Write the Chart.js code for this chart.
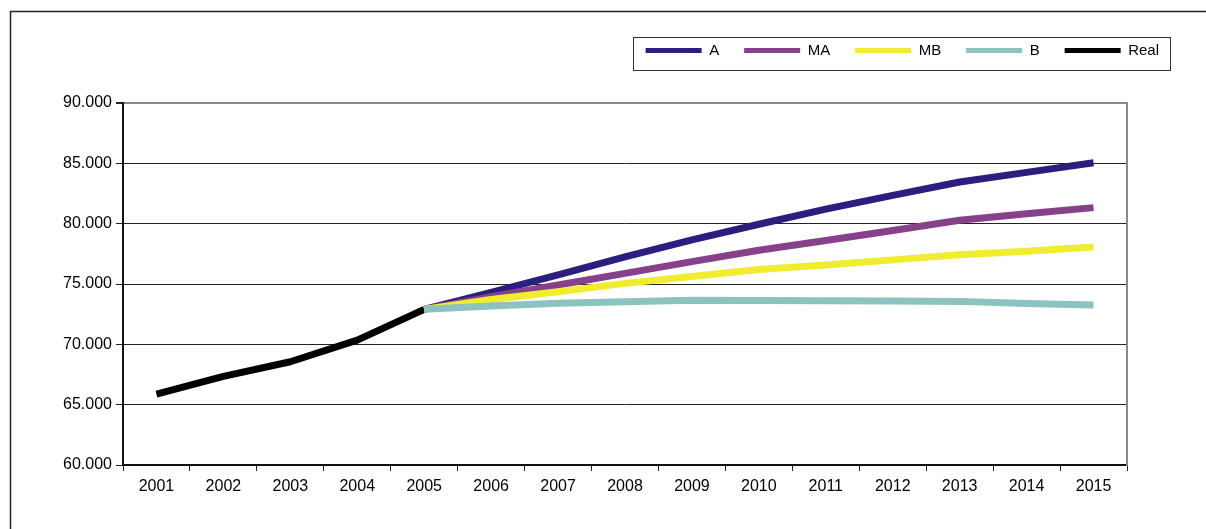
<!DOCTYPE html>
<html>
<head>
<meta charset="utf-8">
<script src="https://cdn.jsdelivr.net/npm/chart.js@4/dist/chart.umd.min.js"></script>
<style>
  html, body { margin: 0; padding: 0; background: #fff; }
  #wrap { width: 1206px; height: 529px; }
</style>
</head>
<body>
<div id="wrap"><canvas id="canvas1" width="1206" height="529"></canvas></div>
<script>
var years = ['2001', '2002', '2003', '2004', '2005', '2006', '2007', '2008',
  '2009', '2010', '2011', '2012', '2013', '2014', '2015'];
var real = [65880, 67350, 68560, 70350, 72900, null, null, null, null, null, null, null, null, null, null];
var serieA = [null, null, null, null, 72900, 74300, 75750, 77250, 78650, 79950, 81200, 82350, 83450, 84250, 85050];
var serieMA = [null, null, null, null, 72900, 73950, 74920, 75880, 76850, 77800, 78610, 79440, 80280, 80830, 81330];
var serieMB = [null, null, null, null, 72900, 73720, 74360, 75050, 75620, 76200, 76580, 77000, 77420, 77720, 78060];
var serieB = [null, null, null, null, 72900, 73170, 73400, 73530, 73650, 73640, 73610, 73590, 73560, 73390, 73250];
var yTicks = [60000, 65000, 70000, 75000, 80000, 85000, 90000];

var font = "'Liberation Sans', Arial, sans-serif";

function dotted(v) {
  return String(v).replace(/\B(?=(\d{3})+(?!\d))/g, '.');
}

// frame round the whole chart + box round the legend
var frames = {
  id: 'frames',
  afterDraw: function (chart) {
    var ctx = chart.ctx;
    ctx.save();
    ctx.strokeStyle = '#222';
    ctx.lineWidth = 1.5;
    ctx.beginPath();
    ctx.moveTo(10.5, 529);
    ctx.lineTo(10.5, 11.5);
    ctx.lineTo(1206, 11.5);
    ctx.stroke();

    var hb = chart.legend.legendHitBoxes;
    if (hb && hb.length) {
      var first = hb[0], last = hb[hb.length - 1];
      var midY = first.top + first.height / 2;
      ctx.lineWidth = 1;
      ctx.strokeStyle = '#333';
      ctx.strokeRect(Math.round(first.left - 13) + 0.5, Math.round(midY - 14) + 0.5,
        Math.round(last.left + last.width + 11 - (first.left - 13)), 33);
    }
    ctx.restore();
  }
};

function line(label, data, color, order) {
  return {
    label: label,
    data: data,
    borderColor: color,
    backgroundColor: color,
    borderWidth: 7,
    pointRadius: 0,
    tension: 0,
    spanGaps: false,
    borderJoinStyle: 'round',
    order: order
  };
}

new Chart(document.getElementById('canvas1'), {
  type: 'line',
  data: {
    labels: years,
    datasets: [
      line('A', serieA, '#2a1f7e', 3),
      line('MA', serieMA, '#86418a', 2),
      line('MB', serieMB, '#f0ec2f', 1),
      line('B', serieB, '#8cc2bf', 0),
      line('Real', real, '#000000', 4)
    ]
  },
  options: {
    responsive: false,
    animation: false,
    layout: { padding: { top: 18, right: 22, left: 0, bottom: 0 } },
    plugins: {
      tooltip: { enabled: false },
      // empty title, only used as a gap between legend and plot
      title: {
        display: true,
        text: '',
        position: 'top',
        weight: 500,
        font: { size: 10, lineHeight: 1 },
        padding: { top: 0, bottom: 25 }
      },
      legend: {
        position: 'top',
        align: 'end',
        labels: {
          boxWidth: 56,
          boxHeight: 5,
          padding: 25,
          color: '#000',
          font: { family: font, size: 15 },
          sort: function (a, b) { return a.datasetIndex - b.datasetIndex; },
          generateLabels: function (chart) {
            var items = Chart.defaults.plugins.legend.labels.generateLabels(chart);
            items.forEach(function (it) { it.lineWidth = 0; });
            return items;
          }
        }
      }
    },
    scales: {
      x: {
        offset: true,
        grid: {
          offset: true,
          drawOnChartArea: false,
          tickLength: 6,
          tickColor: '#222'
        },
        border: { color: '#111', width: 2 },
        ticks: { color: '#000', padding: 6, font: { family: font, size: 16 }, maxRotation: 0 },
        afterFit: function (s) { s.height = 64; }
      },
      y: {
        min: 60000,
        max: 90000,
        afterBuildTicks: function (s) {
          s.ticks = yTicks.map(function (v) { return { value: v }; });
        },
        grid: {
          color: function (c) { return c.tick && c.tick.value === 90000 ? '#888' : '#222'; },
          lineWidth: function (c) { return c.tick && c.tick.value === 90000 ? 2 : 1; },
          tickLength: 7,
          tickColor: '#222'
        },
        border: { color: '#111', width: 2 },
        ticks: {
          color: '#000',
          padding: 4,
          font: { family: font, size: 16 },
          callback: function (v) { return dotted(v); }
        },
        afterFit: function (s) { s.width = 123; }
      },
      y2: {
        position: 'right',
        min: 60000,
        max: 90000,
        grid: { drawOnChartArea: false, drawTicks: false },
        border: { color: '#888', width: 2 },
        ticks: { display: false },
        afterFit: function (s) { s.width = 57; }
      }
    }
  },
  plugins: [frames]
});
</script>
</body>
</html>
